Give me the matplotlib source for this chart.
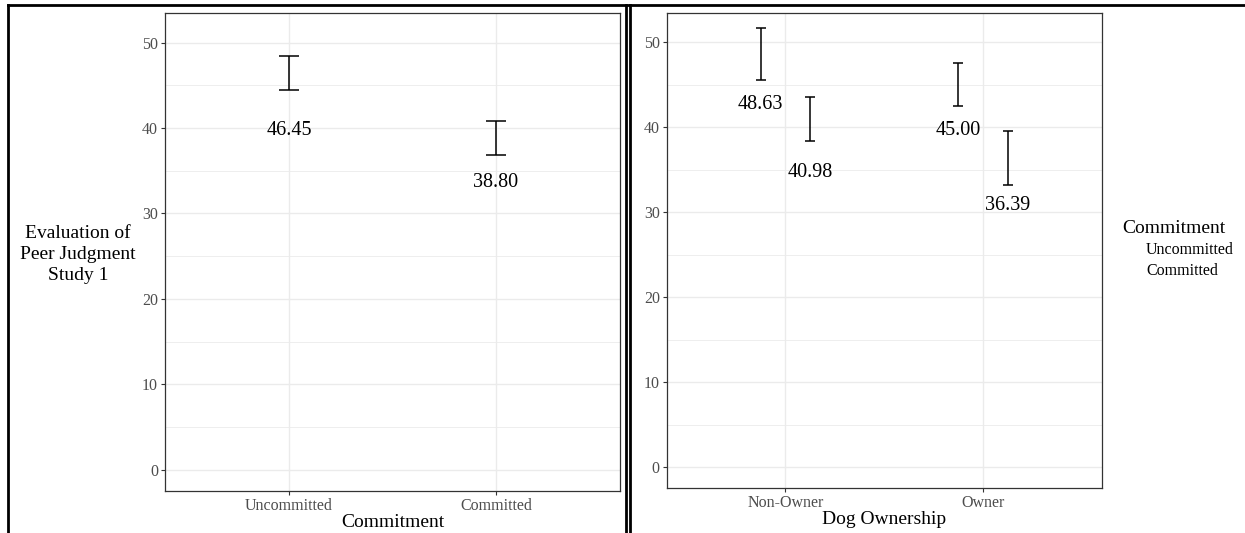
import matplotlib
matplotlib.use('Agg')
import matplotlib.pyplot as plt
from matplotlib.lines import Line2D
from numpy import arange

plt.rcParams['font.family'] = ['Liberation Serif', 'DejaVu Serif']

# Study 1: main effect of commitment
commit_groups = ['Uncommitted', 'Committed']
commit_means = [46.45, 38.80]
commit_err = [1.98, 2.02]

# Study 1: commitment split by dog ownership
owner_groups = ['Non-Owner', 'Owner']
owner_means_uncommitted = [48.63, 45.00]
owner_err_uncommitted = [3.10, 2.52]
owner_means_committed = [40.98, 36.39]
owner_err_committed = [2.54, 3.18]

yticks = [0, 10, 20, 30, 40, 50]

# how far each text label sits under its mean (data units)
commit_label_drop = [6.75, 5.2]
owner_label_drop_unc = [5.9, 5.4]
owner_label_drop_com = [6.3, 5.65]

GRID = '#EBEBEB'
TICK = '#4D4D4D'
BORDER = '#333333'


def style_axes(ax, n):
    ax.set_xlim(0.4, n + 0.6)
    ax.set_ylim(-2.5, 53.5)
    ax.set_yticks(yticks)
    ax.set_yticks(arange(5, 55, 10), minor=True)
    ax.set_xticks(arange(1, n + 1))
    ax.grid(True, which='major', color=GRID, lw=1.0)
    ax.grid(True, which='minor', axis='y', color=GRID, lw=0.6)
    ax.tick_params(axis='y', which='minor', length=0)
    ax.tick_params(which='major', length=3, width=0.8, color=BORDER,
                   labelcolor=TICK, labelsize=11.5, pad=2)
    ax.set_axisbelow(True)
    for s in ax.spines.values():
        s.set_color(BORDER)
        s.set_linewidth(0.9)


fig = plt.figure(figsize=(12.45, 5.33), dpi=100)
ax1 = fig.add_axes([0.1325, 0.0788, 0.498 - 0.1325, 0.9762 - 0.0788])
ax2 = fig.add_axes([0.5355, 0.0839, 0.8849 - 0.5355, 0.9762 - 0.0839])

# left: commitment only
x1 = arange(1, len(commit_groups) + 1)
ax1.errorbar(x1, commit_means, yerr=commit_err, fmt='none', ecolor='black',
             elinewidth=1.1, capsize=7.2, capthick=1.1)
for xi, m, d in zip(x1, commit_means, commit_label_drop):
    ax1.text(xi, m - d, f'{m:.2f}', ha='center', va='center', fontsize=14.5)
style_axes(ax1, len(commit_groups))
ax1.set_xticklabels(commit_groups)
ax1.set_xlabel('Commitment', fontsize=14, labelpad=0)
ax1.set_ylabel('Evaluation of\nPeer Judgment\nStudy 1', fontsize=14,
               rotation=0, ha='center', va='center', linespacing=1.3)
ax1.yaxis.set_label_coords(-0.191, 0.495)

# right: commitment dodged within ownership
x2 = arange(1, len(owner_groups) + 1)
dodge = 0.125
ax2.errorbar(x2 - dodge, owner_means_uncommitted, yerr=owner_err_uncommitted,
             fmt='none', ecolor='black', elinewidth=1.1, capsize=3.6, capthick=1.1)
ax2.errorbar(x2 + dodge, owner_means_committed, yerr=owner_err_committed,
             fmt='none', ecolor='black', elinewidth=1.1, capsize=3.6, capthick=1.1)
for xi, m, d in zip(x2 - dodge, owner_means_uncommitted, owner_label_drop_unc):
    ax2.text(xi, m - d, f'{m:.2f}', ha='center', va='center', fontsize=14.5)
for xi, m, d in zip(x2 + dodge, owner_means_committed, owner_label_drop_com):
    ax2.text(xi, m - d, f'{m:.2f}', ha='center', va='center', fontsize=14.5)
style_axes(ax2, len(owner_groups))
ax2.set_xticklabels(owner_groups)
ax2.set_xlabel('Dog Ownership', fontsize=14, labelpad=0)

# legend text (keys are blank)
fig.text(1122 / 1245, 1 - 228 / 533, 'Commitment', fontsize=14, ha='left', va='center')
fig.text(1146 / 1245, 1 - 250 / 533, 'Uncommitted', fontsize=11.5, ha='left', va='center')
fig.text(1146 / 1245, 1 - 271 / 533, 'Committed', fontsize=11.5, ha='left', va='center')

# outer frames around both panels
W, H = 1245.0, 533.0
frame = [
    ([8, 8], [533, 5]),
    ([8, 1245], [5, 5]),
    ([625.5, 625.5], [5, 533]),
    ([629.8, 629.8], [5, 533]),
]
for xs, ys in frame:
    fig.add_artist(Line2D([x / W for x in xs], [1 - y / H for y in ys],
                          color='black', lw=2.0, solid_capstyle='projecting'))

fig.savefig('out.png', dpi=100)
